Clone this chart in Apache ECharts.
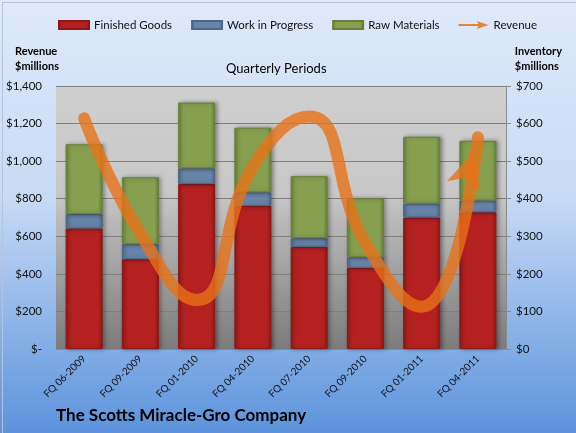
<!DOCTYPE html>
<html>
<head>
<meta charset="utf-8">
<script src="https://cdn.jsdelivr.net/npm/echarts@6/dist/echarts.min.js"></script>
<style>
  html, body { margin: 0; padding: 0; }
  #chart { width: 576px; height: 433px; }
</style>
</head>
<body>
<div id="chart"></div>
<script>
// quarterly periods and values ($ millions)
const periods = ['FQ 06-2009', 'FQ 09-2009', 'FQ 01-2010', 'FQ 04-2010',
                 'FQ 07-2010', 'FQ 09-2010', 'FQ 01-2011', 'FQ 04-2011'];
const finishedGoods = [321, 239, 439, 381, 272, 216, 350, 364];
const workInProgress = [38, 40, 42, 36, 23, 28, 37, 31];
const rawMaterials = [186, 178, 175, 172, 165, 157, 178, 159];
const revenue = [1228, 614, 261, 970, 1237, 564, 225, 1127];

const FONT = 'Lato';
const chart = echarts.init(document.getElementById('chart'));

function barStyle(main, edge) {
    return {
        color: {
            type: 'linear', x: 0, y: 0, x2: 1, y2: 0,
            colorStops: [
                { offset: 0, color: edge },
                { offset: 0.12, color: main },
                { offset: 0.88, color: main },
                { offset: 1, color: edge }
            ]
        },
        borderColor: edge,
        borderWidth: 1,
        shadowColor: 'rgba(0,0,0,0.35)',
        shadowBlur: 4,
        shadowOffsetX: 2
    };
}

// the last revenue point carries the arrow head (tip sits on the value)
const revenueData = revenue.map((v, i) => i < revenue.length - 1 ? v : {
    value: v,
    symbol: 'arrow',
    symbolSize: [26, 34],
    symbolRotate: -16,
    symbolOffset: [-5, 16],
    itemStyle: { color: 'rgba(232,114,24,0.8)' }
});

const option = {
    backgroundColor: {
        type: 'linear', x: 0, y: 0, x2: 0, y2: 1,
        colorStops: [
            { offset: 0, color: '#dfe9fa' },
            { offset: 0.45, color: '#c8dbf6' },
            { offset: 1, color: '#5c93dc' }
        ]
    },
    textStyle: { fontFamily: FONT },
    animation: false,
    legend: {
        left: 53,
        top: 14,
        itemWidth: 30,
        itemHeight: 8,
        itemGap: 19,
        textStyle: { fontFamily: FONT, fontSize: 11.5, color: '#111' },
        data: [
            { name: 'Finished Goods', icon: 'rect' },
            { name: 'Work in Progress', icon: 'rect' },
            { name: 'Raw Materials', icon: 'rect' },
            { name: 'Revenue', icon: 'path://M0,3 L20,3 L18,0 L30,4 L18,8 L20,5 L0,5 Z',
              itemStyle: { color: '#e8832f' } }
        ]
    },
    grid: {
        left: 56, right: 70, top: 86, bottom: 84,
        show: true,
        borderWidth: 0,
        backgroundColor: {
            type: 'linear', x: 0, y: 0, x2: 0, y2: 1,
            colorStops: [
                { offset: 0, color: '#cfcfcf' },
                { offset: 0.4, color: '#c8c8c8' },
                { offset: 1, color: '#7b7b7b' }
            ]
        }
    },
    graphic: [
        { type: 'text', left: 15, top: 44,
          style: { text: 'Revenue\n$millions', font: 'bold 11px ' + FONT, lineHeight: 15, fill: '#000' } },
        { type: 'text', right: 14, top: 44,
          style: { text: 'Inventory\n$millions', font: 'bold 11px ' + FONT, lineHeight: 15, fill: '#000', align: 'right' } },
        { type: 'text', left: 226, top: 62,
          style: { text: 'Quarterly Periods', font: '13px ' + FONT, fill: '#000' } },
        { type: 'text', left: 56, top: 407,
          style: { text: 'The Scotts Miracle-Gro Company', font: 'bold 17px ' + FONT, fill: '#000' } },
        { type: 'rect', left: 0, top: 0, shape: { width: 575, height: 432 },
          style: { fill: 'none', stroke: '#b4c4da', lineWidth: 1 }, silent: true }
    ],
    xAxis: {
        type: 'category',
        data: periods,
        axisLine: { lineStyle: { color: '#8a8a8a' } },
        axisTick: { show: false },
        axisLabel: { rotate: 45, fontSize: 10, color: '#111', margin: 8, fontFamily: FONT }
    },
    yAxis: [
        {
            type: 'value', min: 0, max: 1400, interval: 200,
            axisLine: { show: false },
            axisTick: { show: false },
            splitLine: { lineStyle: { color: '#7f7f7f', width: 1 } },
            axisLabel: {
                margin: 14, fontSize: 11.5, color: '#111', fontFamily: FONT,
                formatter: v => v === 0 ? '$-' : '$' + v.toLocaleString('en-US')
            }
        },
        {
            type: 'value', min: 0, max: 700, interval: 100,
            position: 'right',
            axisLine: { show: true, lineStyle: { color: '#8a8a8a' } },
            axisTick: { show: true, length: 5, lineStyle: { color: '#8a8a8a' } },
            splitLine: { show: false },
            axisLabel: {
                margin: 10, fontSize: 11.5, color: '#111', fontFamily: FONT,
                formatter: v => '$' + v
            }
        }
    ],
    series: [
        { name: 'Finished Goods', type: 'bar', stack: 'inv', yAxisIndex: 1,
          barWidth: 37, data: finishedGoods, itemStyle: barStyle('#b52121', '#8e1717') },
        { name: 'Work in Progress', type: 'bar', stack: 'inv', yAxisIndex: 1,
          barWidth: 37, data: workInProgress, itemStyle: barStyle('#6784a9', '#4d6789') },
        { name: 'Raw Materials', type: 'bar', stack: 'inv', yAxisIndex: 1,
          barWidth: 37, data: rawMaterials, itemStyle: barStyle('#86a04f', '#66803a') },
        {
            name: 'Revenue', type: 'line', yAxisIndex: 0, z: 5,
            smooth: 0.5,
            symbol: 'none',
            showSymbol: true,
            data: revenueData,
            itemStyle: { color: '#e8832f' },
            lineStyle: { width: 12, color: 'rgba(232,114,24,0.8)', cap: 'round' }
        }
    ]
};

chart.setOption(option);
</script>
</body>
</html>
